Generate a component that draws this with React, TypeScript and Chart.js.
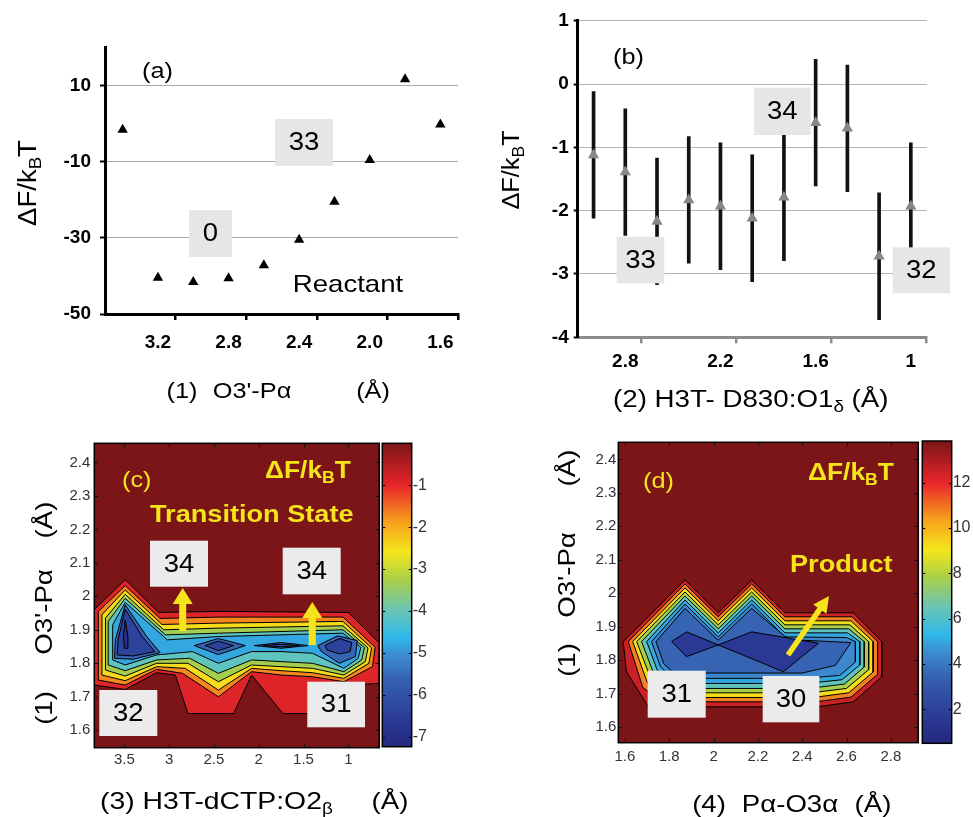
import React, { useEffect, useRef } from 'react';
import { Chart, registerables } from 'chart.js';

Chart.register(...registerables);
Chart.defaults.font.family = "'Liberation Sans', Arial, sans-serif";

// ---------------- panel (a) ----------------
const aCategories = ['3.4', '3.2', '3.0', '2.8', '2.6', '2.4', '2.2', '2.0', '1.8', '1.6'];
const aTickLabels = ['', '3.2', '', '2.8', '', '2.4', '', '2.0', '', '1.6'];
const aTickMarks = [2, 4, 6, 8, 10];
const aFreeEnergy = [-1.6, -40.5, -41.6, -40.6, -37.2, -30.5, -20.5, -9.5, 11.7, -0.2];
const aYTicks = [-50, -30, -10, 10];
const aYRange = [-50, 20];

// ---------------- panel (b) ----------------
const bCategories = ['3.0', '2.8', '2.6', '2.4', '2.2', '2.0', '1.8', '1.6', '1.4', '1.2', '1'];
const bTickLabels = ['', '2.8', '', '', '2.2', '', '', '1.6', '', '', '1'];
const bTickMarks = [2, 5, 8, 11];
const bFreeEnergy = [-1.12, -1.39, -2.17, -1.83, -1.93, -2.12, -1.79, -0.61, -0.70, -2.72, -1.93];
const bError = [1.0, 1.0, 1.0, 1.0, 1.0, 1.0, 1.0, 1.0, 1.0, 1.0, 1.0];
const bYTicks = [-4, -3, -2, -1, 0, 1];
const bYRange = [-4, 1];

// ---------------- panel (c) ----------------
const cXTicks = [3.5, 3, 2.5, 2, 1.5, 1];
const cYTicks = [1.6, 1.7, 1.8, 1.9, 2, 2.1, 2.2, 2.3, 2.4];
const cXRange = [0.654, 3.835];
const cYRange = [1.548, 2.457];
const cColorTicks = [-7, -6, -5, -4, -3, -2, -1];
const cColorRange = [-7.24, 0];

const cRed = [[3.835, 1.96], [3.49, 2.05], [3.12, 1.952], [2.45, 1.955], [1.0, 1.952], [0.66, 1.862], [0.654, 1.86], [0.654, 1.74], [1.0, 1.735], [1.35, 1.65], [1.73, 1.65], [2.08, 1.765], [2.28, 1.65], [2.79, 1.65], [2.93, 1.765], [3.14, 1.772], [3.49, 1.722], [3.835, 1.735]];
const cOrange = [[3.79, 1.955], [3.49, 2.032], [3.10, 1.934], [2.45, 1.938], [1.06, 1.938], [0.70, 1.848], [0.73, 1.79], [1.05, 1.745], [1.4, 1.76], [1.75, 1.765], [2.08, 1.775], [2.45, 1.70], [2.85, 1.77], [3.14, 1.782], [3.49, 1.735], [3.79, 1.75]];
const cYellow = [[3.75, 1.945], [3.49, 2.019], [3.08, 1.916], [2.45, 1.92], [1.06, 1.925], [0.74, 1.846], [0.77, 1.80], [1.05, 1.755], [1.4, 1.772], [1.75, 1.778], [2.08, 1.785], [2.45, 1.72], [2.82, 1.785], [3.14, 1.79], [3.49, 1.748], [3.75, 1.765]];
const cLime = [[3.71, 1.935], [3.49, 2.006], [3.06, 1.90], [2.45, 1.905], [1.06, 1.912], [0.78, 1.846], [0.81, 1.805], [1.05, 1.765], [1.4, 1.785], [1.75, 1.79], [2.08, 1.795], [2.45, 1.745], [2.79, 1.80], [3.14, 1.80], [3.49, 1.762], [3.71, 1.78]];
const cTeal = [[3.68, 1.925], [3.49, 1.994], [3.04, 1.885], [2.45, 1.89], [1.06, 1.90], [0.82, 1.847], [0.85, 1.81], [1.05, 1.775], [1.4, 1.80], [1.75, 1.805], [2.08, 1.81], [2.45, 1.77], [2.77, 1.815], [3.14, 1.81], [3.49, 1.778], [3.68, 1.795]];
const cCyan = [[3.63, 1.915], [3.49, 1.982], [3.02, 1.87], [2.45, 1.88], [1.06, 1.89], [0.86, 1.848], [0.89, 1.815], [1.05, 1.785], [1.4, 1.83], [1.75, 1.835], [2.08, 1.835], [2.45, 1.80], [2.74, 1.835], [3.14, 1.825], [3.49, 1.795], [3.63, 1.81]];
const cBlueLeft = [[3.49, 1.975], [3.60, 1.87], [3.61, 1.815], [3.40, 1.812], [3.10, 1.832], [3.25, 1.88]];
const cBlueMid = [[2.72, 1.853], [2.45, 1.874], [2.15, 1.853], [2.45, 1.826]];
const cBlueCenter = [[2.05, 1.853], [1.75, 1.862], [1.45, 1.853], [1.75, 1.845]];
const cBlueRight = [[1.34, 1.853], [1.12, 1.882], [0.9, 1.868], [0.92, 1.82], [1.1, 1.80], [1.3, 1.835]];
const cNavyLeft = [[3.49, 1.962], [3.57, 1.87], [3.58, 1.825], [3.40, 1.822], [3.16, 1.835], [3.30, 1.88]];
const cNavyMid = [[2.6, 1.853], [2.45, 1.866], [2.28, 1.853], [2.45, 1.838]];
const cNavyCenter = [[1.95, 1.853], [1.75, 1.857], [1.55, 1.853], [1.75, 1.849]];
const cNavyRight = [[1.26, 1.853], [1.1, 1.874], [0.96, 1.862], [0.98, 1.835], [1.1, 1.828], [1.24, 1.84]];
const cDeepLeft = [[3.49, 1.93], [3.51, 1.88], [3.50, 1.845], [3.47, 1.845], [3.46, 1.88]];

const cContours = [
  { level: -0.9, pts: cRed },
  { level: -1.7, pts: cOrange },
  { level: -2.5, pts: cYellow },
  { level: -3.3, pts: cLime },
  { level: -4.1, pts: cTeal },
  { level: -4.8, pts: cCyan },
  { level: -5.6, pts: cBlueLeft },
  { level: -5.6, pts: cBlueMid },
  { level: -5.6, pts: cBlueCenter },
  { level: -5.6, pts: cBlueRight },
  { level: -6.4, pts: cNavyLeft },
  { level: -6.4, pts: cNavyMid },
  { level: -6.4, pts: cNavyCenter },
  { level: -6.4, pts: cNavyRight },
  { level: -7.0, pts: cDeepLeft },
];

// ---------------- panel (d) ----------------
const dXTicks = [1.6, 1.8, 2, 2.2, 2.4, 2.6, 2.8];
const dYTicks = [1.6, 1.7, 1.8, 1.9, 2, 2.1, 2.2, 2.3, 2.4];
const dXRange = [1.57, 2.924];
const dYRange = [1.554, 2.451];
const dColorTicks = [2, 4, 6, 8, 10, 12];
const dColorRange = [0.49, 13.84];

const dRed = [[1.592, 1.856], [1.871, 2.04], [2.021, 1.942], [2.172, 2.04], [2.322, 1.942], [2.631, 1.942], [2.759, 1.856], [2.759, 1.751], [2.631, 1.676], [2.465, 1.661], [1.705, 1.661], [1.607, 1.766]];
const dOrange = [[1.615, 1.856], [1.871, 2.028], [2.021, 1.930], [2.172, 2.028], [2.322, 1.930], [2.625, 1.930], [2.74, 1.856], [2.74, 1.758], [2.62, 1.69], [2.46, 1.676], [1.76, 1.676], [1.68, 1.72]];
const dYellow = [[1.635, 1.856], [1.871, 2.016], [2.021, 1.918], [2.172, 2.016], [2.322, 1.918], [2.62, 1.918], [2.72, 1.856], [2.72, 1.765], [2.61, 1.703], [2.45, 1.689], [1.77, 1.689], [1.70, 1.735]];
const dLime = [[1.653, 1.856], [1.871, 2.004], [2.021, 1.906], [2.172, 2.004], [2.322, 1.906], [2.615, 1.906], [2.70, 1.856], [2.70, 1.772], [2.60, 1.716], [2.44, 1.703], [1.78, 1.703], [1.715, 1.748]];
const dTeal = [[1.675, 1.856], [1.871, 1.992], [2.021, 1.894], [2.172, 1.992], [2.322, 1.894], [2.61, 1.894], [2.68, 1.856], [2.68, 1.78], [2.59, 1.729], [2.43, 1.716], [1.79, 1.716], [1.73, 1.76]];
const dCyan = [[1.698, 1.856], [1.871, 1.98], [2.021, 1.882], [2.172, 1.98], [2.322, 1.882], [2.605, 1.882], [2.66, 1.856], [2.66, 1.786], [2.58, 1.742], [2.42, 1.731], [1.80, 1.731], [1.745, 1.772]];
const dSky = [[1.72, 1.856], [1.871, 1.968], [2.021, 1.870], [2.172, 1.968], [2.322, 1.870], [2.60, 1.868], [2.64, 1.856], [2.64, 1.795], [2.57, 1.755], [2.41, 1.746], [1.81, 1.746], [1.76, 1.782]];
const dBlue = [[1.74, 1.856], [1.871, 1.955], [2.021, 1.86], [2.172, 1.955], [2.34, 1.862], [2.62, 1.853], [2.55, 1.785], [2.40, 1.762], [1.82, 1.762], [1.775, 1.79]];
const dBowtie = [[1.811, 1.856], [1.878, 1.885], [2.021, 1.846], [2.172, 1.885], [2.473, 1.851], [2.315, 1.766], [2.021, 1.846], [1.878, 1.811]];

const dContours = [
  { level: 12.5, pts: dRed },
  { level: 10.8, pts: dOrange },
  { level: 9.2, pts: dYellow },
  { level: 7.8, pts: dLime },
  { level: 6.3, pts: dTeal },
  { level: 5.0, pts: dCyan },
  { level: 4.4, pts: dSky },
  { level: 3.5, pts: dBlue },
  { level: 1.6, pts: dBowtie },
];

// ---------------- colormap (style) ----------------
const cmapStops: [number, number[]][] = [
  [0.0, [36, 40, 126]],
  [0.1, [44, 61, 152]],
  [0.22, [53, 97, 176]],
  [0.3, [61, 139, 208]],
  [0.36, [47, 184, 234]],
  [0.45, [106, 197, 180]],
  [0.55, [169, 207, 72]],
  [0.64, [244, 230, 28]],
  [0.74, [247, 161, 28]],
  [0.86, [233, 38, 43]],
  [1.0, [123, 21, 23]],
];
function cmapT(t: number) {
  const tt = Math.max(0, Math.min(1, t));
  for (let i = 1; i < cmapStops.length; i++) {
    const [t1, c1] = cmapStops[i];
    const [t0, c0] = cmapStops[i - 1];
    if (tt <= t1) {
      const f = (tt - t0) / (t1 - t0);
      const c = c0.map((v, k) => Math.round(v + (c1[k] - v) * f));
      return `rgb(${c[0]},${c[1]},${c[2]})`;
    }
  }
  const c = cmapStops[cmapStops.length - 1][1];
  return `rgb(${c[0]},${c[1]},${c[2]})`;
}
const cmapValue = (v: number, range: number[]) => cmapT((v - range[0]) / (range[1] - range[0]));

// ---------------- drawing helpers ----------------
const FAM = "'Liberation Sans', Arial, sans-serif";
const YELLOW = '#f5e41c';

type Seg = { t: string; sub?: boolean };
type Item = any;

function drawRich(ctx: CanvasRenderingContext2D, it: any, ox: number, oy: number) {
  const w8 = it.bold ? 'bold ' : '';
  const main = `${w8}${it.size}px ${FAM}`;
  const subF = `${w8}${Math.round(it.size * 0.68)}px ${FAM}`;
  const segs: Seg[] = it.segs || [{ t: it.text }];
  ctx.save();
  let total = 0;
  const widths = segs.map((s) => {
    ctx.font = s.sub ? subF : main;
    const m = ctx.measureText(s.t).width;
    total += m;
    return m;
  });
  const sx = it.sx ?? 1.15;
  ctx.translate(it.x - ox, it.y - oy);
  if (it.rot) ctx.rotate(-Math.PI / 2);
  ctx.scale(sx, 1);
  let cx = it.align === 'left' ? 0 : -total / 2;
  ctx.fillStyle = it.color || '#000';
  ctx.textBaseline = 'middle';
  ctx.textAlign = 'left';
  segs.forEach((s, i) => {
    ctx.font = s.sub ? subF : main;
    ctx.fillText(s.t, cx, s.sub ? it.size * 0.3 : 0);
    cx += widths[i];
  });
  ctx.restore();
}

function drawItem(ctx: CanvasRenderingContext2D, it: Item, ox: number, oy: number) {
  if (it.kind === 'text') {
    drawRich(ctx, it, ox, oy);
  } else if (it.kind === 'box') {
    ctx.save();
    ctx.fillStyle = it.fill || '#e6e6e6';
    ctx.fillRect(it.x1 - ox, it.y1 - oy, it.x2 - it.x1, it.y2 - it.y1);
    ctx.restore();
    drawRich(ctx, { text: it.label, size: it.size || 25, x: (it.x1 + it.x2) / 2, y: (it.y1 + it.y2) / 2 + 1, sx: 1.1 }, ox, oy);
  } else if (it.kind === 'arrow') {
    const x1 = it.x1 - ox, y1 = it.y1 - oy, x2 = it.x2 - ox, y2 = it.y2 - oy;
    const ang = Math.atan2(y2 - y1, x2 - x1);
    const len = Math.hypot(x2 - x1, y2 - y1);
    ctx.save();
    ctx.translate(x1, y1);
    ctx.rotate(ang);
    ctx.fillStyle = it.color;
    ctx.beginPath();
    ctx.moveTo(0, -it.w / 2);
    ctx.lineTo(len - it.hl, -it.w / 2);
    ctx.lineTo(len - it.hl, -it.hw / 2);
    ctx.lineTo(len, 0);
    ctx.lineTo(len - it.hl, it.hw / 2);
    ctx.lineTo(len - it.hl, it.w / 2);
    ctx.lineTo(0, it.w / 2);
    ctx.closePath();
    ctx.fill();
    ctx.restore();
  }
}

const overlay = (items: Item[], ox: number, oy: number) => ({
  id: 'overlay',
  afterDraw(chart: any) {
    items.forEach((it) => drawItem(chart.ctx, it, ox, oy));
  },
});

const frame = (bg: string) => ({
  id: 'frame',
  beforeDatasetsDraw(chart: any) {
    const { ctx, chartArea: a } = chart;
    ctx.save();
    ctx.fillStyle = bg;
    ctx.fillRect(a.left, a.top, a.right - a.left, a.bottom - a.top);
    ctx.restore();
  },
  afterDatasetsDraw(chart: any) {
    const { ctx, chartArea: a, scales } = chart;
    ctx.save();
    ctx.strokeStyle = '#111';
    ctx.lineWidth = 1;
    ctx.beginPath();
    scales.x.ticks.forEach((t: any) => {
      const p = Math.round(scales.x.getPixelForValue(t.value)) + 0.5;
      ctx.moveTo(p, a.bottom); ctx.lineTo(p, a.bottom - 4);
      ctx.moveTo(p, a.top); ctx.lineTo(p, a.top + 4);
    });
    scales.y.ticks.forEach((t: any) => {
      const p = Math.round(scales.y.getPixelForValue(t.value)) + 0.5;
      ctx.moveTo(a.left, p); ctx.lineTo(a.left + 4, p);
      ctx.moveTo(a.right, p); ctx.lineTo(a.right - 4, p);
    });
    ctx.stroke();
    ctx.lineWidth = 1.5;
    ctx.strokeStyle = '#000';
    ctx.strokeRect(a.left, a.top, a.right - a.left, a.bottom - a.top);
    ctx.restore();
  },
});

const colorbar = (range: number[]) => ({
  id: 'cbar',
  beforeDatasetsDraw(chart: any) {
    const { ctx, chartArea: a } = chart;
    const g = ctx.createLinearGradient(0, a.bottom, 0, a.top);
    cmapStops.forEach(([t]) => g.addColorStop(t, cmapT(t)));
    ctx.save();
    ctx.fillStyle = g;
    ctx.fillRect(a.left, a.top, a.right - a.left, a.bottom - a.top);
    const y = chart.scales.y;
    ctx.strokeStyle = '#000';
    ctx.lineWidth = 1;
    ctx.beginPath();
    y.ticks.forEach((t: any) => {
      const p = Math.round(y.getPixelForValue(t.value)) + 0.5;
      ctx.moveTo(a.left, p); ctx.lineTo(a.left + 3, p);
      ctx.moveTo(a.right, p); ctx.lineTo(a.right - 3, p);
    });
    ctx.stroke();
    ctx.lineWidth = 1.5;
    ctx.strokeRect(a.left, a.top, a.right - a.left, a.bottom - a.top);
    ctx.restore();
  },
});

const markColor = (marks: number[], n: number, col: string) => (c: any) => {
  const idx = typeof c.index === 'number' ? c.index : n;
  return marks.includes(idx) ? col : 'rgba(0,0,0,0)';
};

const fixedTicks = (vals: number[]) => (s: any) => {
  s.ticks = vals.map((v) => ({ value: v }));
};

const baseOptions = (padding: any) => ({
  animation: false,
  responsive: false,
  maintainAspectRatio: false,
  events: [],
  layout: { padding, autoPadding: false },
  plugins: { legend: { display: false }, tooltip: { enabled: false } },
});

const dF = (size: number, extra: any = {}) => ({ kind: 'text', size, segs: [{ t: 'ΔF/k' }, { t: 'B', sub: true }, { t: 'T' }], ...extra });

// ---------------- chart configs ----------------
function configA(): any {
  const items: Item[] = [
    dF(25, { x: 29, y: 183, rot: true, sx: 1.1 }),
    { kind: 'text', text: '(a)', x: 142, y: 72, size: 22, align: 'left' },
    { kind: 'box', x1: 275, y1: 119, x2: 333, y2: 166, label: '33' },
    { kind: 'box', x1: 189, y1: 210, x2: 232, y2: 257, label: '0' },
    { kind: 'text', text: 'Reactant', x: 348, y: 285, size: 24 },
    { kind: 'text', text: '(1)', x: 182, y: 392, size: 22 },
    { kind: 'text', text: "O3'-Pα", x: 252, y: 392, size: 22 },
    { kind: 'text', text: '(Å)', x: 373, y: 392, size: 22 },
  ];
  return {
    type: 'line',
    data: {
      labels: aCategories,
      datasets: [{
        data: aFreeEnergy, showLine: false, pointStyle: 'triangle', pointRadius: 6,
        pointBackgroundColor: '#000', pointBorderColor: '#000', pointBorderWidth: 0,
      }],
    },
    options: {
      ...baseOptions({ left: 0, top: 47.65, right: 22, bottom: 0 }),
      scales: {
        x: {
          type: 'category', offset: true,
          afterFit: (s: any) => { s.height = 106; },
          grid: { offset: true, drawOnChartArea: false, drawTicks: true, tickLength: 6, lineWidth: 2.5, color: markColor(aTickMarks, aCategories.length, '#000') },
          border: { display: true, color: '#000', width: 3 },
          ticks: { autoSkip: false, maxRotation: 0, padding: 11, color: '#000', font: { size: 19, weight: 'bold' }, callback: (_v: any, i: number) => aTickLabels[i] },
        },
        y: {
          min: aYRange[0], max: aYRange[1],
          afterFit: (s: any) => { s.width = 105; },
          afterBuildTicks: fixedTicks(aYTicks),
          grid: { color: (c: any) => (c.tick && c.tick.value === aYRange[0] ? 'rgba(0,0,0,0)' : '#a8a8a8'), lineWidth: 1, tickColor: '#000', tickWidth: 2, tickLength: 5 },
          border: { display: true, color: '#000', width: 3 },
          ticks: { autoSkip: false, padding: 9, color: '#000', font: { size: 19, weight: 'bold' }, callback: (v: any) => String(v) },
        },
      },
    },
    plugins: [overlay(items, 0, 0)],
  };
}

function configB(): any {
  const ox = 480, oy = 0;
  const items: Item[] = [
    dF(23, { x: 513, y: 170, rot: true, sx: 1.1 }),
    { kind: 'text', text: '(b)', x: 613, y: 58, size: 22, align: 'left' },
    { kind: 'box', x1: 754, y1: 87.7, x2: 810.7, y2: 135, label: '34' },
    { kind: 'box', x1: 616.7, y1: 236.7, x2: 664.3, y2: 283.3, label: '33' },
    { kind: 'box', x1: 892.7, y1: 247.3, x2: 950, y2: 293.3, label: '32' },
    { kind: 'text', x: 613, y: 401, size: 23.5, sx: 1.18, align: 'left', segs: [{ t: '(2) H3T- D830:O1' }, { t: 'δ', sub: true }, { t: ' (Å)' }] },
  ];
  return {
    type: 'bar',
    data: {
      labels: bCategories,
      datasets: [
        {
          type: 'line', data: bFreeEnergy, showLine: false, pointStyle: 'triangle', pointRadius: 6.5,
          pointBackgroundColor: '#878787', pointBorderColor: '#878787', pointBorderWidth: 0, order: 0,
        },
        {
          type: 'bar', data: bFreeEnergy.map((v, i) => [v - bError[i], v + bError[i]]),
          backgroundColor: '#111', barThickness: 3, order: 1,
        },
      ],
    },
    options: {
      ...baseOptions({ left: 0, top: 20.7, right: 46.3, bottom: 0 }),
      scales: {
        x: {
          type: 'category', offset: true,
          afterFit: (s: any) => { s.height = 82.7; },
          grid: { offset: true, drawOnChartArea: false, drawTicks: true, tickLength: 6, lineWidth: 2.5, color: markColor(bTickMarks, bCategories.length, '#8c8c8c') },
          border: { display: true, color: '#8c8c8c', width: 3 },
          ticks: { autoSkip: false, maxRotation: 0, padding: 7, color: '#000', font: { size: 19, weight: 'bold' }, callback: (_v: any, i: number) => bTickLabels[i] },
        },
        y: {
          min: bYRange[0], max: bYRange[1],
          afterFit: (s: any) => { s.width = 97.7; },
          afterBuildTicks: fixedTicks(bYTicks),
          grid: { color: (c: any) => (c.tick && c.tick.value === bYRange[0] ? 'rgba(0,0,0,0)' : '#b4b4b4'), lineWidth: 1, tickColor: '#000', tickWidth: 2, tickLength: 4 },
          border: { display: true, color: '#000', width: 3 },
          ticks: { autoSkip: false, padding: 5, color: '#000', font: { size: 19, weight: 'bold' }, callback: (v: any) => String(v) },
        },
      },
    },
    plugins: [overlay(items, ox, oy)],
  };
}

function contourDatasets(list: any[], range: number[]) {
  return list.map((c, i) => ({
    data: [...c.pts, c.pts[0]].map(([x, y]: number[]) => ({ x, y })),
    showLine: true,
    fill: 'shape',
    backgroundColor: cmapValue(c.level, range),
    borderColor: '#000',
    borderWidth: 1,
    pointRadius: 0,
    tension: 0,
    order: list.length - i,
  }));
}

function contourScales(xr: number[], yr: number[], xt: number[], yt: number[], reverse: boolean, yw: number, xh: number, ypad: number, xpad: number) {
  return {
    x: {
      type: 'linear', reverse, min: xr[0], max: xr[1],
      afterBuildTicks: fixedTicks(xt),
      afterFit: (s: any) => { s.height = xh; },
      grid: { display: false, drawTicks: false }, border: { display: false },
      ticks: { autoSkip: false, maxRotation: 0, padding: xpad, color: '#333', font: { size: 15 }, callback: (v: any) => String(v) },
    },
    y: {
      type: 'linear', min: yr[0], max: yr[1],
      afterBuildTicks: fixedTicks(yt),
      afterFit: (s: any) => { s.width = yw; },
      grid: { display: false, drawTicks: false }, border: { display: false },
      ticks: { autoSkip: false, padding: ypad, color: '#333', font: { size: 15 }, callback: (v: any) => String(v) },
    },
  };
}

function configC(): any {
  const ox = 0, oy = 420;
  const items: Item[] = [
    { kind: 'text', text: '(c)', x: 122, y: 481, size: 22, align: 'left', color: YELLOW },
    dF(24, { x: 265, y: 471, bold: true, color: YELLOW, align: 'left', sx: 1.1 }),
    { kind: 'text', text: 'Transition State', x: 150, y: 516, size: 23, bold: true, color: YELLOW, align: 'left', sx: 1.18 },
    { kind: 'arrow', x1: 182.7, y1: 631, x2: 182.7, y2: 588, w: 7, hw: 20, hl: 16, color: YELLOW },
    { kind: 'arrow', x1: 312.3, y1: 645, x2: 312.3, y2: 602, w: 7, hw: 20, hl: 16, color: YELLOW },
    { kind: 'box', x1: 150, y1: 540.7, x2: 208, y2: 586.7, label: '34', fill: '#ebebeb' },
    { kind: 'box', x1: 282.7, y1: 547.7, x2: 340.7, y2: 594.3, label: '34', fill: '#ebebeb' },
    { kind: 'box', x1: 99.3, y1: 690, x2: 157.3, y2: 736, label: '32', fill: '#ebebeb' },
    { kind: 'box', x1: 307.3, y1: 681.7, x2: 365, y2: 727.3, label: '31', fill: '#ebebeb' },
    { kind: 'text', text: '(1)', x: 45, y: 708, size: 24, rot: true },
    { kind: 'text', text: "O3'-Pα", x: 45, y: 612, size: 24, rot: true },
    { kind: 'text', text: '(Å)', x: 45, y: 520, size: 24, rot: true },
    { kind: 'text', x: 100, y: 802, size: 24, sx: 1.18, align: 'left', segs: [{ t: '(3) H3T-dCTP:O2' }, { t: 'β', sub: true }] },
    { kind: 'text', text: '(Å)', x: 390, y: 802, size: 24 },
  ];
  return {
    type: 'scatter',
    data: { datasets: contourDatasets(cContours, cColorRange) },
    options: {
      ...baseOptions({ left: 0, top: 23.3, right: 50.7, bottom: 0 }),
      scales: contourScales(cXRange, cYRange, cXTicks, cYTicks, true, 94.3, 69.3, 4, 3),
    },
    plugins: [frame(cmapValue(cColorRange[1], cColorRange)), overlay(items, ox, oy)],
  };
}

function configD(): any {
  const ox = 480, oy = 420;
  const items: Item[] = [
    { kind: 'text', text: '(d)', x: 643, y: 482, size: 22, align: 'left', color: YELLOW },
    dF(24, { x: 808, y: 473, bold: true, color: YELLOW, align: 'left', sx: 1.1 }),
    { kind: 'text', text: 'Product', x: 790, y: 566, size: 23, bold: true, color: YELLOW, align: 'left', sx: 1.18 },
    { kind: 'arrow', x1: 788, y1: 655, x2: 829, y2: 596, w: 5.5, hw: 16, hl: 16, color: YELLOW },
    { kind: 'box', x1: 647.7, y1: 670.7, x2: 705.7, y2: 717.7, label: '31', fill: '#ebebeb' },
    { kind: 'box', x1: 762.7, y1: 676, x2: 819.3, y2: 722.3, label: '30', fill: '#ebebeb' },
    { kind: 'text', text: '(1)', x: 568, y: 660, size: 24, rot: true },
    { kind: 'text', text: "O3'-Pα", x: 568, y: 575, size: 24, rot: true },
    { kind: 'text', text: '(Å)', x: 568, y: 468, size: 24, rot: true },
    { kind: 'text', text: '(4)', x: 709, y: 805, size: 24 },
    { kind: 'text', text: 'Pα-O3α', x: 790, y: 805, size: 24 },
    { kind: 'text', text: '(Å)', x: 873, y: 805, size: 24 },
  ];
  return {
    type: 'scatter',
    data: { datasets: contourDatasets(dContours, dColorRange) },
    options: {
      ...baseOptions({ left: 0, top: 22.3, right: 1.7, bottom: 0 }),
      scales: contourScales(dXRange, dYRange, dXTicks, dYTicks, false, 138.3, 74.3, 2, 5),
    },
    plugins: [frame(cmapValue(dColorRange[1], dColorRange)), overlay(items, ox, oy)],
  };
}

function configBar(range: number[], ticks: number[], padding: any, yw: number): any {
  return {
    type: 'scatter',
    data: { datasets: [] },
    options: {
      ...baseOptions(padding),
      scales: {
        x: { display: false, min: 0, max: 1 },
        y: {
          position: 'right', min: range[0], max: range[1],
          afterBuildTicks: fixedTicks(ticks),
          afterFit: (s: any) => { s.width = yw; },
          grid: { display: false, drawTicks: false }, border: { display: false },
          ticks: { autoSkip: false, padding: 1, color: '#333', font: { size: 16 }, callback: (v: any) => String(v) },
        },
      },
    },
    plugins: [colorbar(range)],
  };
}

function ChartBox({ left, top, width, height, make }: { left: number; top: number; width: number; height: number; make: () => any }) {
  const ref = useRef<HTMLCanvasElement>(null);
  useEffect(() => {
    const chart = new Chart(ref.current as HTMLCanvasElement, make());
    return () => chart.destroy();
  }, []);
  return <canvas ref={ref} width={width} height={height} style={{ position: 'absolute', left, top, width, height }} />;
}

export default function App() {
  return (
    <div style={{ position: 'absolute', left: 0, top: 0, width: 973, height: 817, overflow: 'hidden', background: '#fff' }}>
      <ChartBox left={0} top={0} width={480} height={420} make={configA} />
      <ChartBox left={480} top={0} width={493} height={420} make={configB} />
      <ChartBox left={0} top={420} width={430} height={397} make={configC} />
      <ChartBox left={380} top={420} width={60} height={397} make={() => configBar(cColorRange, cColorTicks, { left: 2.3, top: 23.3, right: 0, bottom: 70.3 }, 28.3)} />
      <ChartBox left={480} top={420} width={440} height={397} make={configD} />
      <ChartBox left={920} top={420} width={53} height={397} make={() => configBar(dColorRange, dColorTicks, { left: 2.3, top: 21, right: 0, bottom: 73.7 }, 21.3)} />
    </div>
  );
}
